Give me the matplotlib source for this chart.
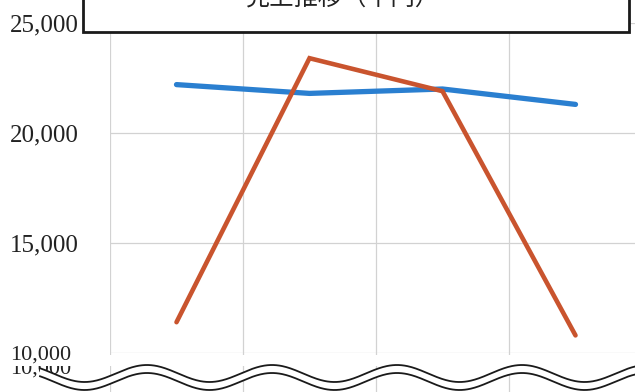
import numpy as np
import matplotlib
matplotlib.use("Agg")
import matplotlib.pyplot as plt
from matplotlib.patches import Rectangle, Polygon
from matplotlib.lines import Line2D

# data (千円)
periods = ['第1期', '第2期', '第3期', '第4期']
series_a = [22200, 21800, 22000, 21300]   # blue
series_b = [11400, 23400, 21900, 10800]   # orange
yticks = [10000, 15000, 20000, 25000]
title = '売上推移（千円）'

W, H = 635, 392
def fx(px):
    return px / W
def fy(py):
    return 1 - py / H

fig = plt.figure(figsize=(W / 100, H / 100), dpi=100)
fig.patch.set_facecolor('white')

grid_c = '#d2d2d2'
x = np.arange(len(periods))
bounds = np.arange(len(periods) + 1) - 0.5

# main plot
ax = fig.add_axes([fx(110), fy(353), 532 / W, (353 - 23) / H])
ax.set_facecolor('none')
ax.set_zorder(5)
ax.plot(x, series_a, color='#2a7fd0', lw=3.8, solid_capstyle='round', zorder=3)
ax.plot(x, series_b, color='#c9542e', lw=3.3, solid_capstyle='round',
        solid_joinstyle='miter', zorder=4)
ax.set_xlim(-0.5, 3.5)
ax.set_ylim(10000, 25000)
ax.set_yticks(yticks)
ax.set_yticklabels(['{:,}'.format(v) for v in yticks], family='Liberation Serif', fontsize=18)
ax.get_yticklabels()[0].set_fontsize(16)
for lab in ax.get_yticklabels():
    lab.set_horizontalalignment('left')
ax.tick_params(axis='y', length=0, pad=72, colors='#222222')
ax.set_xticks(bounds)
ax.set_xticklabels([])
ax.tick_params(axis='x', length=0)
ax.grid(True, color=grid_c, lw=0.9)
for s in ax.spines.values():
    s.set_visible(False)

# strip under the break
ax2 = fig.add_axes([fx(110), 0, 532 / W, (H - 353) / H])
ax2.set_facecolor('none')
ax2.set_zorder(0)
ax2.set_xlim(-0.5, 3.5)
ax2.set_xticks(bounds)
ax2.set_yticks([])
ax2.set_xticklabels([])
ax2.tick_params(length=0)
ax2.grid(True, axis='x', color=grid_c, lw=0.9)
for s in ax2.spines.values():
    s.set_visible(False)

# ghost label peeking out under the break
fig.text(fx(10), fy(374), '10,000', family='Liberation Serif', fontsize=16,
         color='#222222', ha='left', va='baseline', zorder=1)
fig.add_artist(Rectangle((0, fy(366)), 1, (366 - 355) / H, transform=fig.transFigure,
                         facecolor='white', edgecolor='none', zorder=2))

# wavy break
xs = np.linspace(40, 640, 600)
up = 373.5 - 8.5 * np.cos(2 * np.pi * (xs - 147) / 125)
lo = up + 8
poly = np.column_stack([np.r_[fx(xs), fx(xs[::-1])], np.r_[fy(up), fy(lo[::-1])]])
fig.add_artist(Polygon(poly, closed=True, transform=fig.transFigure,
                       facecolor='white', edgecolor='none', zorder=6))
for yy in (up, lo):
    fig.add_artist(Line2D(fx(xs), fy(yy), transform=fig.transFigure,
                          color='#1a1a1a', lw=1.3, zorder=7))

# title box (cut off at top)
fig.add_artist(Rectangle((fx(83), fy(32)), fx(629) - fx(83), 60 / H,
                         transform=fig.transFigure, facecolor='white',
                         edgecolor='#1a1a1a', lw=2, zorder=8))
fig.text(fx(343), fy(6), title, family=['Noto Sans CJK JP', 'DejaVu Sans'],
         fontsize=17.5, color='#222222', ha='center', va='baseline', zorder=9)

fig.savefig('out.png', dpi=100)
